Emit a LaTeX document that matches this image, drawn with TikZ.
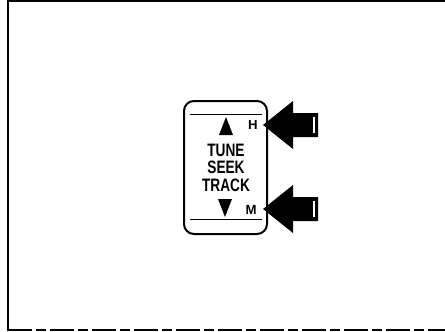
\documentclass[tikz,border=0pt]{standalone}
\usepackage{fontspec}
\setmainfont{Liberation Sans}
\begin{document}
\begin{tikzpicture}[x=0.5pt,y=-0.5pt,
  etiquette/.style={font=\bfseries\fontsize{9}{10}\selectfont, xscale=0.76, inner sep=0pt},
  lettre/.style={font=\bfseries\fontsize{6.6}{7}\selectfont, inner sep=0pt},
  trait/.style={line width=0.6pt}]
  \useasboundingbox (0,0) rectangle (445,332);
  % Cadre
  \draw[trait] (8,331) -- (8,1) -- (445,1);
  \draw[trait, dash pattern=on 12pt off 2pt on 5pt off 2pt] (8,330) -- (445,330);

  % Boitier
  \draw[line width=1pt, rounded corners=5pt] (184,101) rectangle (267,234);
  \draw[line width=0.4pt] (190,114) -- (262,114);
  \draw[line width=0.4pt] (190,219) -- (262,219);

  % Triangles haut et bas
  \fill (226,117) -- (233,135) -- (219,135) -- cycle;
  \fill (218,199) -- (232,199) -- (225,217) -- cycle;

  % Textes
  \node[etiquette] (tune) at (226,150) {TUNE};
  \node[etiquette] (seek) at (226,167) {SEEK};
  \node[etiquette] (track) at (226,185) {TRACK};
  \node[lettre] (h) at (253,125) {H};
  \node[lettre] (m) at (251,210) {M};

  % Fleches
  \foreach \y in {125,209} {
    \fill (263,\y) -- (293,\y-24) -- (293,\y-12) -- (318,\y-12) -- (318,\y+12)
      -- (293,\y+12) -- (293,\y+24) -- cycle;
    \draw[white, line width=1pt] (314,\y-8) -- (314,\y+8);
    \draw[white, line width=0.8pt] (295,\y-22) -- (295,\y-17);
    \draw[white, line width=0.8pt] (295,\y+16) -- (295,\y+21);
  }
\end{tikzpicture}
\end{document}
